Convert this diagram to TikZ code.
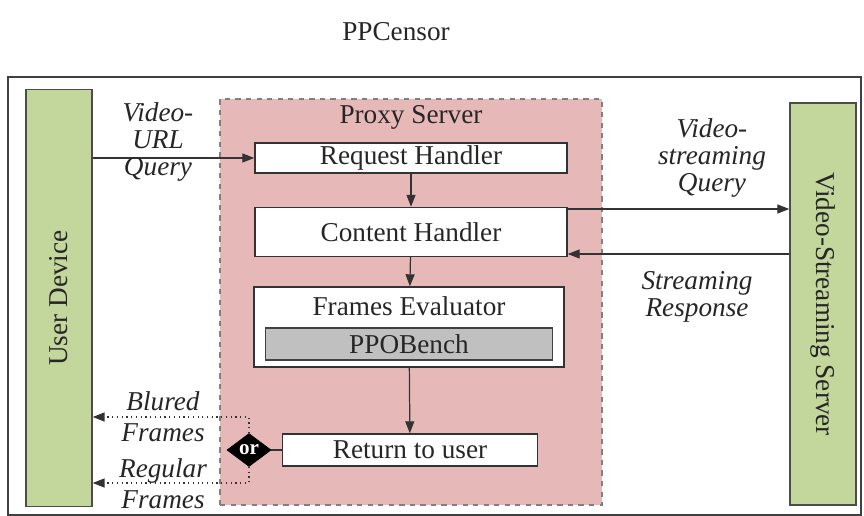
\documentclass[tikz,border=0pt]{standalone}
\usepackage{fontspec}
\setmainfont{LiberationSerif}[Extension=.ttf, UprightFont=*-Regular,
  ItalicFont=*-Italic, BoldFont=*-Bold, BoldItalicFont=*-BoldItalic]
\usetikzlibrary{arrows.meta,shapes.geometric}

\definecolor{endgreen}{HTML}{C3D69B}
\definecolor{proxypink}{HTML}{E6B9B8}
\definecolor{benchgray}{HTML}{C0C0C0}

\begin{document}
\begin{tikzpicture}[x=0.02cm, y=-0.02cm,
    every node/.style={font=\fontsize{15.5}{15.5}\selectfont, text=black!85},
    endpoint/.style={draw=black!70, fill=endgreen, line width=0.8pt,
      minimum height=1.32cm, inner sep=0pt},
    proxy/.style={draw=black!50, dashed, fill=proxypink, line width=0.7pt,
      minimum width=7.64cm, minimum height=8.12cm},
    handler/.style={draw=black!80, fill=white, line width=0.8pt,
      minimum width=6.24cm, inner sep=0pt},
    bench/.style={draw=black!75, fill=benchgray, line width=0.8pt,
      minimum width=5.74cm, minimum height=0.64cm, inner sep=0pt},
    choice/.style={diamond, fill=black, draw=black, minimum width=0.88cm,
      minimum height=0.66cm, inner sep=0pt, aspect=1.33,
      font=\fontsize{12}{12}\selectfont\bfseries, text=white},
    flowlabel/.style={align=center, font=\fontsize{15.5}{15.5}\selectfont\itshape},
    arrow/.style={-{Triangle[length=2.4mm, width=1.8mm]}, line width=0.7pt, draw=black!80},
    dotarrow/.style={arrow, dotted, line width=0.9pt}
  ]
  \useasboundingbox (0,0) rectangle (864,516);

  % title and outer frame
  \node (title) at (396,32) {PPCensor};
  \draw[black!75, line width=0.8pt] (8,77) rectangle (861,515);

  % end points
  \node[endpoint, rotate=90, minimum width=8.34cm] (user) at (59,298) {User Device};
  \node[endpoint, rotate=-90, minimum width=8.04cm] (vss) at (823,304) {Video-Streaming Server};

  % proxy server
  \node[proxy] (proxy) at (411,302) {};
  \node (proxytitle) at (411,117) {Proxy Server};

  \node[handler, minimum height=0.6cm] (request) at (411,158) {Request Handler};
  \node[handler, minimum height=0.98cm] (content) at (411,232) {Content Handler};
  \node[handler, minimum width=6.2cm, minimum height=1.6cm] (evaluator) at (409,327) {};
  \node (evaltitle) at (409,306) {Frames Evaluator};
  \node[bench] (ppobench) at (409,344) {PPOBench};
  \node[handler, minimum width=5.1cm, minimum height=0.64cm] (return) at (410,450) {Return to user};
  \node[choice] (or) at (249,450) {or};

  \coordinate (blured) at (249,417);
  \coordinate (regular) at (249,483);

  % connectors
  \draw[arrow] (user.south |- request) -- (request.west);
  \draw[arrow] (request) -- (content);
  \draw[arrow] (content) -- (evaluator);
  \draw[arrow] (evaluator) -- (return);
  \draw[arrow] ([yshift=0.46cm]content.east) -- ([yshift=0.46cm]content.east -| vss.south);
  \draw[arrow] ([yshift=-0.44cm]content.east -| vss.south) -- ([yshift=-0.44cm]content.east);
  \draw[line width=0.7pt, black!80] (return.west) -- (or.east);
  \draw[dotarrow] (or.north) -- (blured) -- (blured -| user.south);
  \draw[dotarrow] (or.south) -- (regular) -- (regular -| user.south);

  % connector labels
  \node[flowlabel] (urlquery) at (158,142) {Video-\\URL\\Query};
  \node[flowlabel] (streamquery) at (712,158) {Video-\\streaming\\Query};
  \node[flowlabel] (streamresp) at (697,297) {Streaming\\Response};
  \node[flowlabel] (bluredlabel) at (163,417) {Blured\\[2pt]Frames};
  \node[flowlabel] (regularlabel) at (163,484) {Regular\\[2pt]Frames};
\end{tikzpicture}
\end{document}
